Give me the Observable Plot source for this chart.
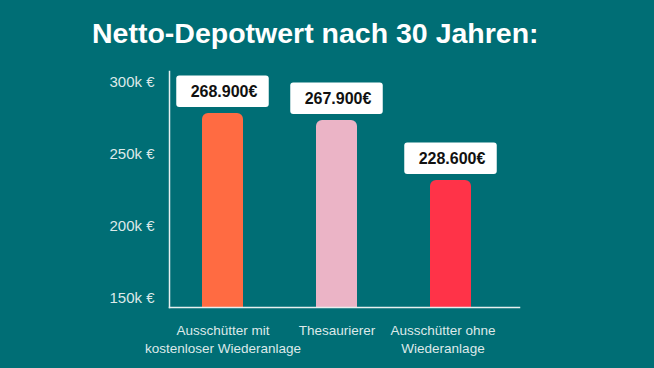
<!DOCTYPE html>
<html><head><meta charset="utf-8">
<script src="https://cdn.jsdelivr.net/npm/d3@7"></script>
<script src="https://cdn.jsdelivr.net/npm/@observablehq/plot@0.6"></script>
<style>
html,body{margin:0;padding:0;background:#006e75;width:654px;height:368px;overflow:hidden;}
#title{height:62px;box-sizing:border-box;padding:18px 0 0 92px;font:bold 28.5px "Liberation Sans",Arial,sans-serif;line-height:31px;color:#fff;white-space:nowrap;}
#chart svg{display:block;}
</style></head><body>
<div id="title">Netto-Depotwert nach 30 Jahren:</div>
<div id="chart"></div>
<script>
const categories = ["Ausschütter mit\nkostenloser Wiederanlage", "Thesaurierer", "Ausschütter ohne\nWiederanlage"];
// bar heights as drawn in the picture (the graphic is not to scale with its labels)
const barHeights = [278400, 273500, 231800];
// values printed in the label boxes
const labelValues = [268900, 267900, 228600];
const yTicks = [150000, 200000, 250000, 300000];
const colors = ["#ff6b42", "#ebb4c6", "#ff3348"];

const data = categories.map((c, i) => ({category: c, value: barHeights[i], label: labelValues[i], idx: i}));
const fmt = v => d3.format(",")(v).replace(/,/g, ".") + "€";
const light = "#dde9e9";

const chart = Plot.plot({
  width: 654, height: 306,
  marginTop: 9, marginBottom: 61, marginLeft: 169, marginRight: 135,
  style: {background: "transparent", fontFamily: "'Liberation Sans', Arial, sans-serif", color: light, overflow: "visible"},
  x: {domain: categories, range: [164.875, 507.625], paddingInner: 0.641, paddingOuter: 0.3205, axis: null},
  y: {domain: [143390, 307660], axis: null},
  color: {domain: categories, range: colors},
  marks: [
    Plot.barY(data, {x: "category", y1: 120000, y2: "value", fill: "category", rx: 6, clip: true}),
    Plot.barY(data, {x: "category", y1: "value", y2: "value", fill: "white", rx: 3,
      insetLeft: -25.75, insetRight: -25.75, insetTop: -37.5, insetBottom: 6}),
    Plot.text(data, {x: "category", y: "value", text: d => fmt(d.label), dy: -21.5, dx: 1,
      fill: "#111", fontWeight: "bold", fontSize: 16}),
    Plot.frame({anchor: "left", stroke: "#e6efef", strokeWidth: 1.5}),
    Plot.frame({anchor: "bottom", stroke: "#e6efef", strokeWidth: 1.5}),
    Plot.axisY({ticks: yTicks, tickFormat: d => d / 1000 + "k €", tickSize: 0, tickPadding: 15, fontSize: 15, fill: light, label: null}),
    Plot.text(data.filter(d => d.idx < 2), {x: "category", text: "category", frameAnchor: "bottom", lineAnchor: "top",
      dy: 15, fontSize: 13.5, lineHeight: 1.33, fill: light}),
    Plot.text(data.filter(d => d.idx === 2), {x: "category", text: "category", frameAnchor: "bottom", lineAnchor: "top",
      dy: 15, dx: -8, fontSize: 13.5, lineHeight: 1.33, fill: light})
  ]
});
document.getElementById("chart").append(chart);
</script>
</body></html>
